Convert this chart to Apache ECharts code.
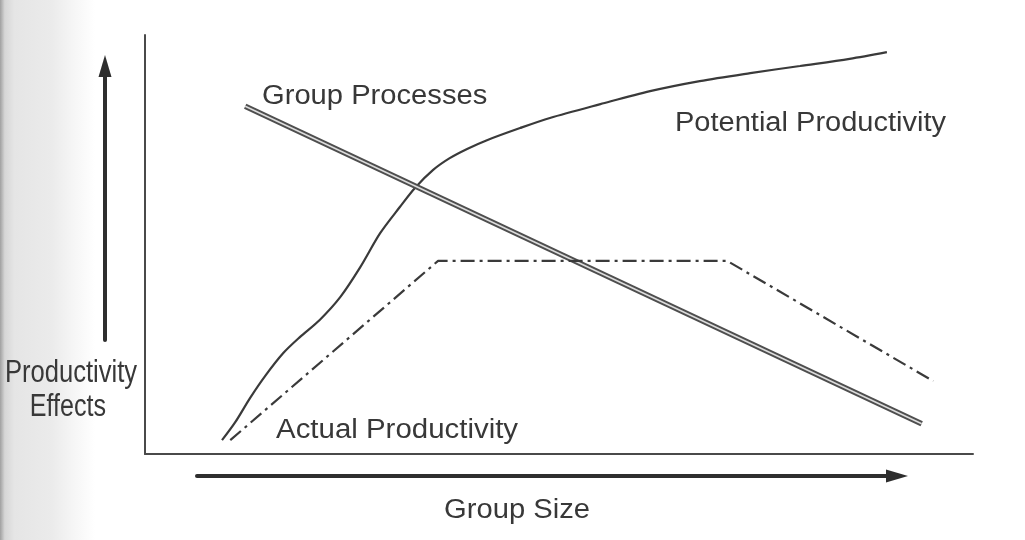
<!DOCTYPE html>
<html>
<head>
<meta charset="utf-8">
<script src="https://cdn.jsdelivr.net/npm/echarts@6/dist/echarts.min.js"></script>
<style>
html,body{margin:0;padding:0;background:#fff;}
#c{width:1025px;height:540px;}
</style>
</head>
<body>
<div id="c"></div>
<script>
// Potential Productivity curve (x: group size 0-100, y: productivity effect 0-100)
var potentialX = [9.3, 10.9, 12.7, 14.5, 16.7, 18.7, 21.1, 23.6, 26.0, 28.4, 30.8, 32.6, 34.8, 36.8, 38.9, 41.3, 45.3, 48.9, 55.0, 61.0, 67.0, 73.1, 79.1, 85.1, 89.6];
var potentialY = [3.3, 7.6, 13.4, 18.6, 24.1, 27.9, 32.0, 37.5, 44.6, 52.7, 59.0, 63.5, 67.8, 70.6, 72.8, 74.9, 77.8, 80.2, 83.5, 86.6, 89.0, 90.9, 92.6, 94.3, 95.9];
// Group Processes line
var processX = [12.1, 93.8];
var processY = [83.0, 7.2];
// Actual Productivity (dash-dot)
var actualX = [10.3, 35.4, 70.3, 95.2];
var actualY = [3.3, 46.1, 46.1, 17.4];
// Texts
var labelTexts = ['Group Processes', 'Potential Productivity', 'Actual Productivity'];
var xAxisTitle = 'Group Size';
var yAxisTitle = ['Productivity', 'Effects'];

function pairs(xs, ys) { return xs.map(function (x, i) { return [x, ys[i]]; }); }

var lineColor = '#3a3a3a';
var textColor = '#383838';
var font = '27px "Liberation Sans", Arial, sans-serif';
var fontSide = '31px "Liberation Sans", Arial, sans-serif';

var chart = echarts.init(document.getElementById('c'), null, {renderer: 'canvas'});
var hidden = {show: false};
function txt(x, y, s, align, f, sx) {
  return {type: 'text', x: x, y: y, scaleX: sx, silent: true,
    style: {text: s, font: f, fill: textColor, textAlign: align, textVerticalAlign: 'middle'}};
}
chart.setOption({
  backgroundColor: '#ffffff',
  animation: false,
  grid: [
    {left: 145, top: 35, right: 52, bottom: 86},
    {left: 197, width: 700, top: 476, height: 0},
    {left: 105, width: 0, top: 66, height: 274}
  ],
  xAxis: [
    {type: 'value', gridIndex: 0, min: 0, max: 100, axisLine: {show: true, onZero: false, lineStyle: {color: '#4a4a4a', width: 2}}, axisTick: hidden, axisLabel: hidden, splitLine: hidden},
    {type: 'value', gridIndex: 1, min: 0, max: 1, position: 'bottom', axisLine: {show: true, onZero: false, symbol: ['none', 'triangle'], symbolSize: [13, 22], lineStyle: {color: '#2e2e2e', width: 4}}, axisTick: hidden, axisLabel: hidden, splitLine: hidden},
    {type: 'value', gridIndex: 2, min: 0, max: 1, show: false}
  ],
  yAxis: [
    {type: 'value', gridIndex: 0, min: 0, max: 100, axisLine: {show: true, onZero: false, lineStyle: {color: '#4a4a4a', width: 2}}, axisTick: hidden, axisLabel: hidden, splitLine: hidden},
    {type: 'value', gridIndex: 1, min: 0, max: 1, show: false},
    {type: 'value', gridIndex: 2, min: 0, max: 1, position: 'left', axisLine: {show: true, onZero: false, symbol: ['none', 'triangle'], symbolSize: [13, 22], lineStyle: {color: '#2e2e2e', width: 4}}, axisTick: hidden, axisLabel: hidden, splitLine: hidden}
  ],
  series: [
    {type: 'line', xAxisIndex: 0, yAxisIndex: 0, data: pairs(potentialX, potentialY), smooth: 0.3, showSymbol: false, lineStyle: {color: lineColor, width: 2.2}},
    {type: 'line', xAxisIndex: 0, yAxisIndex: 0, data: pairs(processX, processY), showSymbol: false, lineStyle: {color: '#4e4e4e', width: 5.5}},
    {type: 'line', xAxisIndex: 0, yAxisIndex: 0, data: pairs(processX, processY), showSymbol: false, lineStyle: {color: '#dcdcdc', width: 1.6}},
    {type: 'line', xAxisIndex: 0, yAxisIndex: 0, data: pairs(actualX, actualY), showSymbol: false, lineStyle: {color: lineColor, width: 2.2, type: [14, 5, 3, 5]}}
  ],
  graphic: [
    {type: 'rect', z: -10, silent: true, shape: {x: 0, y: 0, width: 95, height: 540},
     style: {fill: new echarts.graphic.LinearGradient(0, 0, 1, 0, [
       {offset: 0, color: '#a0a0a0'}, {offset: 0.05, color: '#d6d6d6'}, {offset: 0.15, color: '#e5e5e5'},
       {offset: 0.55, color: '#ebebeb'}, {offset: 0.78, color: '#f6f6f6'}, {offset: 1, color: '#ffffff'}])}},
    txt(262, 97, labelTexts[0], 'left', font, 1.08),
    txt(675, 124, labelTexts[1], 'left', font, 1.075),
    txt(276, 431, labelTexts[2], 'left', font, 1.09),
    txt(517, 511, xAxisTitle, 'center', font, 1.08),
    txt(71, 373, yAxisTitle[0], 'center', fontSide, 0.825),
    txt(68, 407, yAxisTitle[1], 'center', fontSide, 0.81)
  ]
});
</script>
</body>
</html>
